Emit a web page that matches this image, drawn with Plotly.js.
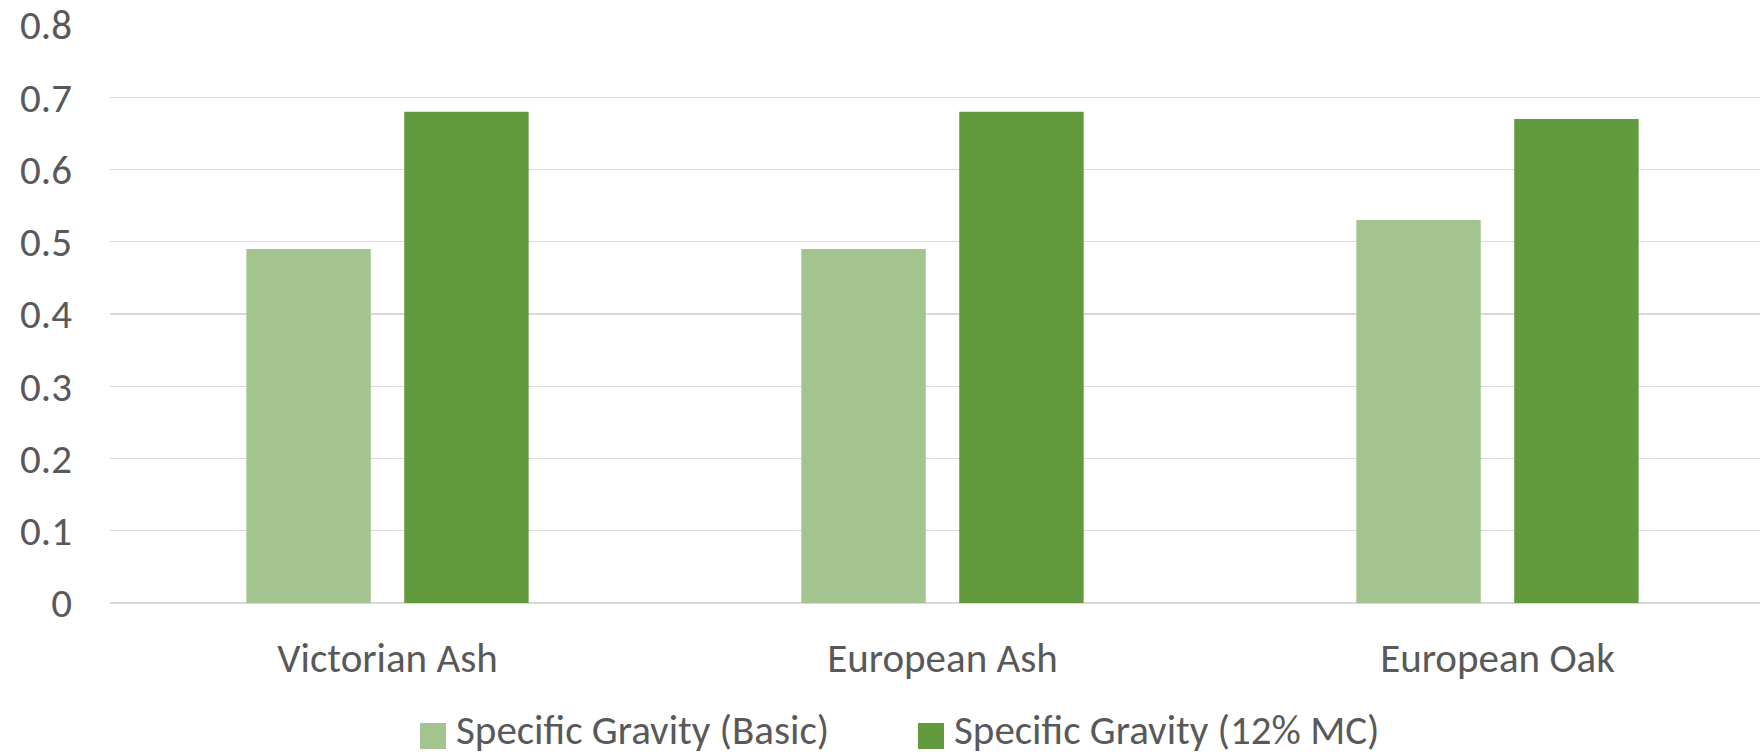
<!DOCTYPE html>
<html>
<head>
<meta charset="utf-8">
<script src="https://cdn.plot.ly/plotly-3.0.1.min.js"></script>
<style>
  html, body { margin: 0; padding: 0; background: #ffffff; }
  #chart { width: 1760px; height: 756px; }
</style>
</head>
<body>
<div id="chart"></div>
<script>
const categories = ["Victorian Ash", "European Ash", "European Oak"];
const seriesNames = ["Specific Gravity (Basic)", "Specific Gravity (12% MC)"];
const basicValues = [0.49, 0.49, 0.53];
const mcValues = [0.68, 0.68, 0.67];
const yTickVals = [0, 0.1, 0.2, 0.3, 0.4, 0.5, 0.6, 0.7, 0.8];
const yTickText = ["0", "0.1", "0.2", "0.3", "0.4", "0.5", "0.6", "0.7", "0.8"];

const colors = ["#A3C48F", "#629A3E"];
const fontFamily = "Carlito, Lato, 'Open Sans', sans-serif";
const textColor = "#595959";

const traces = [
  { type: "bar", x: categories, y: basicValues, name: seriesNames[0],
    marker: { color: colors[0], line: { width: 0 } }, showlegend: false },
  { type: "bar", x: categories, y: mcValues, name: seriesNames[1],
    marker: { color: colors[1], line: { width: 0 } }, showlegend: false }
];

// Manual legend (large square swatches like the original), positioned in paper coords
const plotL = 110, plotW = 1650, plotB = 603, plotH = 578;
const px = v => (v - plotL) / plotW;
const py = v => (plotB - v) / plotH;
const legendItems = [
  { sq: [420, 446], tx: 455 },
  { sq: [918, 944], tx: 953 }
];
const legendSqY = 736, legendTxtY = 730, sqHalf = 13;
const shapes = legendItems.map((it, i) => ({
  type: "rect", xref: "paper", yref: "paper",
  x0: px(it.sq[0]), x1: px(it.sq[1]),
  y0: py(legendSqY + sqHalf), y1: py(legendSqY - sqHalf),
  fillcolor: colors[i], line: { width: 0 }
}));
const annotations = legendItems.map((it, i) => ({
  xref: "paper", yref: "paper", x: px(it.tx), y: py(legendTxtY),
  xanchor: "left", yanchor: "middle", showarrow: false, borderpad: 0,
  text: seriesNames[i],
  font: { size: 41, color: textColor, family: fontFamily }
}));

const layout = {
  width: 1760, height: 756,
  margin: { l: 110, r: 0, t: 25, b: 153, pad: 0, autoexpand: false },
  paper_bgcolor: "#ffffff",
  plot_bgcolor: "rgba(0,0,0,0)",
  font: { family: fontFamily, color: textColor, size: 41 },
  barmode: "group",
  bargap: 0.431,
  bargroupgap: 0.212,
  showlegend: false,
  shapes: shapes,
  annotations: annotations,
  xaxis: {
    type: "category",
    range: [-0.5, 2.473],
    showgrid: false, zeroline: false, showline: false,
    ticks: "", ticklabelstandoff: 27,
    tickfont: { size: 41, color: textColor, family: fontFamily },
    fixedrange: true
  },
  yaxis: {
    range: [0, 0.8],
    tickmode: "array", tickvals: yTickVals, ticktext: yTickText,
    showgrid: true, gridcolor: "#D9D9D9", gridwidth: 1.3,
    zeroline: true, zerolinecolor: "#D9D9D9", zerolinewidth: 1.3,
    showline: false, ticks: "", ticklabelstandoff: 37,
    tickfont: { size: 41, color: textColor, family: fontFamily },
    fixedrange: true
  }
};

Plotly.newPlot("chart", traces, layout, { displayModeBar: false, staticPlot: true });
</script>
</body>
</html>
